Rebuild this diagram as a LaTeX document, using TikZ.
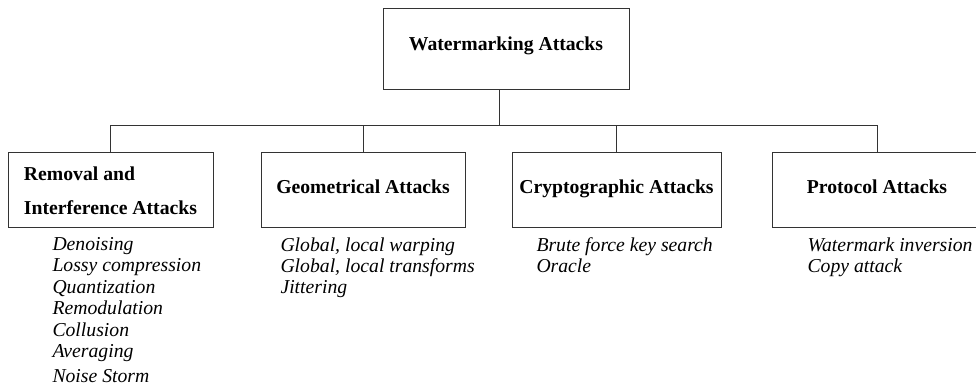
\documentclass[tikz,border=0pt]{standalone}
\usepackage{fontspec}
\setmainfont{Liberation Serif}
\begin{document}
\begin{tikzpicture}[x=1pt,y=-1pt,
  line width=1pt,
  box/.style={draw=black!80, line width=1pt, inner xsep=0pt, inner ysep=0pt,
    font=\fontsize{19.7}{34}\selectfont\bfseries, minimum height=75pt},
  items/.style={anchor=north west, inner sep=0pt, align=left,
    font=\fontsize{19.7}{21.4}\selectfont\itshape},
  conn/.style={draw=black!80, line width=1pt}]
\useasboundingbox (0,0) rectangle (976,385);
\clip (0,0) rectangle (976,385);
% boxes
\node[box, minimum width=246pt, minimum height=81pt, text height=14pt, text depth=11pt] (top) at (506,49.5) {Watermarking Attacks};
\node[box, minimum width=205pt, align=left, text height=53pt, text depth=4pt] (rem) at (110.5,189.5) {Removal and\\Interference Attacks};
\node[box, minimum width=204pt, text height=13pt, text depth=6pt] (geo) at (363,189.5) {Geometrical Attacks};
\node[box, minimum width=209pt, text height=13pt, text depth=6pt] (cry) at (616.5,189.5) {Cryptographic Attacks};
\node[box, minimum width=210pt, text height=13pt, text depth=6pt] (pro) at (877,189.5) {Protocol Attacks};
% connectors
\coordinate (j) at (499,125);
\draw[conn] (top.south -| j) -- (j);
\draw[conn] (rem.north) -- (rem.north |- j) -- (pro.north |- j) -- (pro.north);
\draw[conn] (geo.north) -- (geo.north |- j);
\draw[conn] (cry.north) -- (cry.north |- j);
% lists
\node[items] (remL) at (52,237) {Denoising\\Lossy compression\\Quantization\\Remodulation\\Collusion\\Averaging\\[3.5pt]Noise Storm};
\node[items] (geoL) at (280,237) {Global, local warping\\Global, local transforms\\Jittering};
\node[items] (cryL) at (536,237) {Brute force key search\\Oracle};
\node[items] (proL) at (807,237) {Watermark inversion\\Copy attack};
\end{tikzpicture}
\end{document}
